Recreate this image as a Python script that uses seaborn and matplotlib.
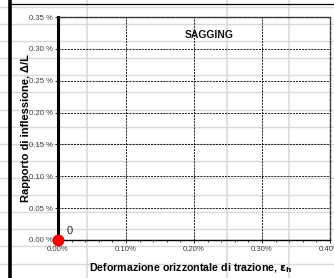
import matplotlib
matplotlib.use("Agg")
import matplotlib.pyplot as plt
from matplotlib.lines import Line2D
from matplotlib.ticker import FuncFormatter, MultipleLocator
import seaborn as sns
import pandas as pd

# ---- data ----
strain_x = [0.0]          # deformazione orizzontale (%)
deflection_y = [0.0]      # rapporto di inflessione (%)
point_labels = ["0"]
x_ticks = [0.00, 0.10, 0.20, 0.30, 0.40]
y_ticks = [0.00, 0.05, 0.10, 0.15, 0.20, 0.25, 0.30, 0.35]
region_label = "SAGGING"

sns.set_theme(style="white")
plt.rcParams['font.family'] = ['Liberation Sans', 'DejaVu Sans']

W, H = 334, 278
fig = plt.figure(figsize=(W / 100, H / 100), dpi=100)
fig.patch.set_facecolor("white")

# spreadsheet background grid
def fx(px):
    return px / W
def fy(py):
    return 1 - py / H

for k in range(16):
    yy = 7 + 17.1 * k
    fig.add_artist(Line2D([0, 1], [fy(yy), fy(yy)], color="#d9d9d9", lw=1.0, zorder=0))
for xx in [87, 227, 289]:
    fig.add_artist(Line2D([fx(xx), fx(xx)], [0, 1], color="#d9d9d9", lw=1.2, zorder=0))
fig.add_artist(Line2D([fx(10), fx(10)], [0, 1], color="black", lw=2.6, zorder=1))
fig.add_artist(Line2D([fx(10), 1], [fy(4), fy(4)], color="black", lw=0.9, zorder=1))

ax = fig.add_axes([58 / W, 1 - 240 / H, (330 - 58) / W, (240 - 17) / H])
ax.patch.set_alpha(0)

df = pd.DataFrame({"x": strain_x, "y": deflection_y, "label": point_labels})
sns.scatterplot(data=df, x="x", y="y", ax=ax, color="#ff0000", s=65,
                edgecolor="#cc0000", linewidth=0.5, zorder=5, clip_on=False)
for _, r in df.iterrows():
    ax.annotate(r["label"], (r["x"], r["y"]), xytext=(6, 4.5), textcoords="offset points",
                fontsize=8, color="#222222")

ax.set_xlim(x_ticks[0], x_ticks[-1])
ax.set_ylim(y_ticks[0], y_ticks[-1])
ax.set_xticks(x_ticks)
ax.set_yticks(y_ticks)
ax.xaxis.set_minor_locator(MultipleLocator(0.02))
fmt = FuncFormatter(lambda v, p: f"{v:.2f} %")
ax.xaxis.set_major_formatter(FuncFormatter(lambda v, p: f"{v:.2f}%"))
ax.yaxis.set_major_formatter(fmt)
ax.tick_params(axis="both", labelsize=5.6, labelcolor="#404040", length=2.5,
               width=0.6, color="black", pad=1.5, direction="out")
ax.tick_params(axis="x", which="minor", length=1.5, width=0.5, color="black", bottom=True)
ax.tick_params(axis="y", left=True)
ax.tick_params(axis="x", bottom=True)

ax.grid(True, which="major", color="black", linestyle=(0, (2.5, 1.2)), linewidth=0.6)
ax.set_axisbelow(True)

for side in ["top", "right"]:
    ax.spines[side].set_visible(True)
    ax.spines[side].set_linestyle((0, (2.5, 1.2)))
    ax.spines[side].set_linewidth(1.0)
    ax.spines[side].set_color("#333333")
ax.spines["left"].set_linewidth(2.2)
ax.spines["left"].set_color("black")
ax.spines["bottom"].set_linewidth(1.0)
ax.spines["bottom"].set_color("black")

ax.text(0.222, 0.321, region_label, fontsize=7.5, fontweight="bold", ha="center",
        va="center", color="#111111")

ax.set_xlabel("Deformazione orizzontale di trazione, $\\mathbf{\\varepsilon_h}$",
              fontsize=7.7, fontweight="bold", color="black")
ax.xaxis.set_label_coords((191 - 58) / (330 - 58), -(268 - 240) / (240 - 17))
ax.set_ylabel("Rapporto di inflessione, Δ/L", fontsize=8, fontweight="bold", color="black")
ax.yaxis.set_label_coords(-(58 - 26) / (330 - 58), (240 - 128) / (240 - 17))
ax.xaxis.label.set_va("center")
ax.yaxis.label.set_va("center")

fig.savefig("out.png", dpi=100)
